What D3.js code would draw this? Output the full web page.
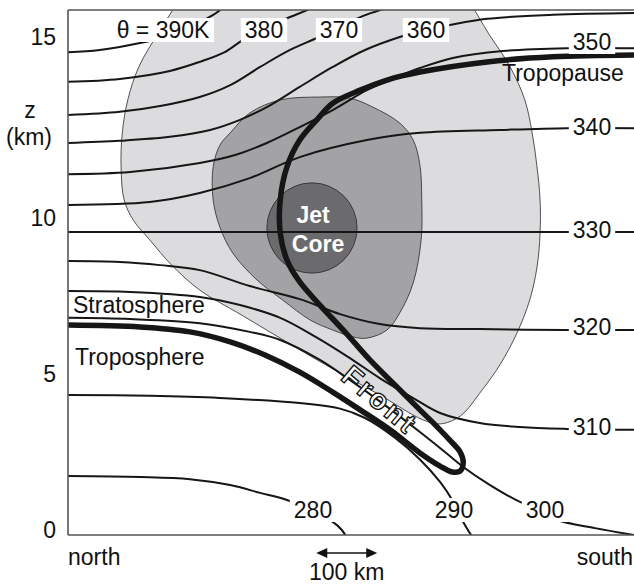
<!DOCTYPE html>
<html><head><meta charset="utf-8">
<script src="https://cdn.jsdelivr.net/npm/d3@7"></script>
<style>
html,body{margin:0;padding:0;background:#fff;}
svg{display:block;font-family:"Liberation Sans",Arial,Helvetica,sans-serif;}
</style></head><body>
<svg id="c" width="634" height="586"></svg>
<script>
// ---------- data (x: km from north edge, z: height km) ----------
const zTicks = [0, 5, 10, 15];
const xEnds = ["north", "south"];
const topThetaLabels = ["θ = 390K", "380", "370", "360"];
const rightThetaLabels = ["350", "340", "330", "320", "310"];
const bottomThetaLabels = ["280", "290", "300"];
const scaleBarKm = [407, 507];

const th390 = [[0,14.72],[52,14.78],[118,14.97],[159,15.14],[200,15.41],[238,15.75],[249,15.88],[257,16.02]];
const th380 = [[0,13.9],[85,13.98],[167,14.2],[216,14.45],[257,14.72],[287,15.06],[326,15.41],[364,15.69],[392,15.88],[405,15.99]];
const th370 = [[0,12.98],[85,13.07],[151,13.23],[216,13.48],[266,13.81],[315,14.31],[364,14.78],[408,15.11],[446,15.41],[484,15.72],[523,15.94],[536,16.02]];
const th360 = [[0,12.21],[85,12.27],[167,12.38],[233,12.57],[282,12.85],[326,13.2],[380,13.76],[434,14.31],[487,14.78],[544,15.14],[585,15.33],[626,15.47],[687,15.64],[795,15.75],[928,15.8]];
const th350 = [[0,11.35],[102,11.41],[216,11.66],[274,11.88],[326,12.21],[380,12.65],[434,13.12],[490,13.67],[536,14.01],[577,14.28],[631,14.56],[713,14.75],[818,14.83],[928,14.83]];
const th340 = [[0,10.5],[134,10.58],[216,10.83],[298,11.24],[380,11.82],[490,12.29],[577,12.49],[708,12.57],[818,12.62],[928,12.62]];
const th330 = [[0,9.71],[928,9.71]];
const th320 = [[0,8.78],[85,8.75],[151,8.65],[216,8.49],[298,7.98],[380,7.56],[446,7.08],[511,6.76],[577,6.63],[675,6.6],[818,6.57],[928,6.57]];
const th310 = [[0,7.82],[102,7.79],[216,7.63],[282,7.37],[348,6.96],[406,6.35],[459,5.71],[511,5.03],[566,4.39],[610,3.91],[675,3.59],[741,3.46],[818,3.4],[928,3.37]];
const th300 = [[0,6.96],[102,6.92],[216,6.79],[298,6.51],[348,6.25],[413,5.61],[462,4.97],[519,4.17],[577,3.3],[618,2.66],[648,2.18],[692,1.6],[741,1.06],[782,0.74],[803,0.48],[864,0.22],[928,0]];
const th290 = [[0,4.49],[134,4.46],[249,4.39],[380,4.23],[446,4.05],[487,3.75],[536,3.12],[577,2.42],[610,1.7],[630,1.12],[648,0.42],[666,-0.16]];
const th280 = [[0,1.89],[118,1.86],[200,1.79],[266,1.6],[315,1.35],[359,1.12],[434,0.42],[449,0.16],[459,-0.16]];

// tropopause / front fold (lower branch -> tip -> upper branch)
const tropopause = [[0,6.73],[118,6.67],[200,6.51],[266,6.19],[323,5.77],[380,5.22],[434,4.58],[479,4.01],[528,3.37],[577,2.63],[610,2.21],[630,2.02],[643,2.05],[648,2.31],[643,2.66],[626,3.04],[602,3.53],[577,4.01],[536,4.81],[495,5.61],[454,6.51],[413,7.37],[380,8.11],[359,8.81],[348,9.68],[348,10.64],[359,11.55],[380,12.29],[408,12.85],[434,13.31],[479,13.67],[523,13.95],[577,14.17],[687,14.45],[795,14.59],[928,14.64]];

// wind speed regions
const lightRegion = [[177,16.02],[151,15.33],[116,14.31],[98,13.4],[89,12.49],[87,11.55],[92,10.64],[107,10.08],[134,9.46],[170,8.65],[216,7.85],[282,7.08],[348,6.31],[429,5.38],[511,4.49],[582,3.69],[610,3.56],[643,3.81],[679,4.65],[708,5.45],[736,6.47],[757,7.53],[769,8.59],[774,9.68],[774,10.64],[769,11.55],[761,12.49],[749,13.4],[725,14.31],[689,15.25],[662,16.02]];
const mediumRegion = [[413,13.48],[462,13.45],[500,13.2],[544,12.76],[566,12.29],[577,11.6],[580,10.64],[579,9.46],[566,8.08],[544,7.12],[523,6.57],[490,6.31],[467,6.35],[434,6.57],[397,6.89],[352,7.53],[310,8.17],[270,9.04],[249,9.87],[238,10.64],[238,11.55],[249,12.15],[266,12.49],[298,13.04],[348,13.4]];
const jetCore = {x: 400, z: 9.84, r: 74};

// ---------- drawing ----------
const x = d3.scaleLinear().domain([0, 928]).range([68, 634]);
const y = d3.scaleLinear().domain([0, 5, 10, 15]).range([535, 379, 223, 42]);
const frameTop = 10;

const svg = d3.select("#c");
svg.append("defs").append("clipPath").attr("id", "plot")
  .append("rect").attr("x", x(0)).attr("y", frameTop).attr("width", x(928) - x(0)).attr("height", y(0) - frameTop);

const g = svg.append("g").attr("clip-path", "url(#plot)");
const line = d3.line().x(d => x(d[0])).y(d => y(d[1])).curve(d3.curveCatmullRom.alpha(0.5));
const closed = d3.line().x(d => x(d[0])).y(d => y(d[1])).curve(d3.curveCatmullRomClosed.alpha(0.5));

g.append("path").attr("d", line(lightRegion) + "Z")
  .attr("fill", "#dcdcde").attr("stroke", "#2a2a2a").attr("stroke-width", 0.8);
g.append("path").attr("d", closed(mediumRegion))
  .attr("fill", "#a3a3a6").attr("stroke", "#2a2a2a").attr("stroke-width", 0.8);
g.append("circle").attr("cx", x(jetCore.x)).attr("cy", y(jetCore.z)).attr("r", x(jetCore.r) - x(0))
  .attr("fill", "#6b6b6e").attr("stroke", "#2a2a2a").attr("stroke-width", 0.8);

[th390, th380, th370, th360, th350, th340, th330, th320, th310, th300, th290, th280].forEach(s => {
  g.append("path").attr("d", line(s)).attr("fill", "none")
    .attr("stroke", "#161616").attr("stroke-width", 2);
});

g.append("path").attr("d", line(tropopause)).attr("fill", "none")
  .attr("stroke", "#161616").attr("stroke-width", 5.5).attr("stroke-linejoin", "round");

// frame
const fr = svg.append("g").attr("stroke", "#555").attr("stroke-width", 1.6).attr("fill", "none");
fr.append("line").attr("x1", x(0)).attr("x2", x(0)).attr("y1", frameTop).attr("y2", y(0));
fr.append("line").attr("x1", x(0)).attr("x2", x(928)).attr("y1", frameTop).attr("y2", frameTop);
fr.append("line").attr("x1", x(0)).attr("x2", x(928)).attr("y1", y(0)).attr("y2", y(0));

const FS = 23;
function txt(s, px, py, anchor) {
  return svg.append("text").attr("x", px).attr("y", py).attr("text-anchor", anchor || "start")
    .attr("font-size", FS).attr("fill", "#111").text(s);
}
function boxed(s, px, py, anchor) {
  const t = txt(s, px, py, anchor);
  const b = t.node().getBBox();
  svg.insert("rect", () => t.node()).attr("x", b.x - 4).attr("y", b.y + 1).attr("width", b.width + 8).attr("height", b.height - 2)
    .attr("fill", "#fff");
  return t;
}

// labels on isentropes
const topX = [163, 264, 339, 426];
topThetaLabels.forEach((s, i) => boxed(s, topX[i], 38, "middle"));
const rightY = [50, 135, 238, 335, 435];
rightThetaLabels.forEach((s, i) => boxed(s, 592, rightY[i], "middle"));
const botX = [313, 454, 545];
bottomThetaLabels.forEach((s, i) => boxed(s, botX[i], 518, "middle"));

// axis labels
zTicks.forEach(v => txt(String(v), 56, y(v) + 3, "end"));
txt("z", 30, 118, "middle");
txt("(km)", 29, 145, "middle");
txt(xEnds[0], x(0), 565, "start");
txt(xEnds[1], 633, 565, "end");

txt("Stratosphere", 73, 313, "start");
txt("Troposphere", 75, 365, "start");
txt("Tropopause", 502, 81, "start");

svg.append("text").attr("x", 313).attr("y", 223).attr("text-anchor", "middle").attr("font-size", FS)
  .attr("font-weight", "bold").attr("fill", "#fff").text("Jet");
svg.append("text").attr("x", 318).attr("y", 252).attr("text-anchor", "middle").attr("font-size", FS)
  .attr("font-weight", "bold").attr("fill", "#fff").text("Core");

svg.append("text").attr("transform", "translate(380,400) rotate(40)")
  .attr("text-anchor", "middle").attr("dominant-baseline", "central")
  .attr("font-size", 29).attr("font-weight", "bold").attr("letter-spacing", 3)
  .attr("fill", "#fff").attr("stroke", "#111").attr("stroke-width", 1.3).text("Front");

// scale bar
const sb = svg.append("g");
const sy = 553;
sb.append("line").attr("x1", x(scaleBarKm[0]) + 8).attr("x2", x(scaleBarKm[1]) - 8).attr("y1", sy).attr("y2", sy)
  .attr("stroke", "#111").attr("stroke-width", 1.6);
sb.append("path").attr("d", `M${x(scaleBarKm[0])},${sy} l11,-5 l0,10 Z`).attr("fill", "#111");
sb.append("path").attr("d", `M${x(scaleBarKm[1])},${sy} l-11,-5 l0,10 Z`).attr("fill", "#111");
txt("100 km", (x(scaleBarKm[0]) + x(scaleBarKm[1])) / 2, 580, "middle");
</script>
</body></html>
